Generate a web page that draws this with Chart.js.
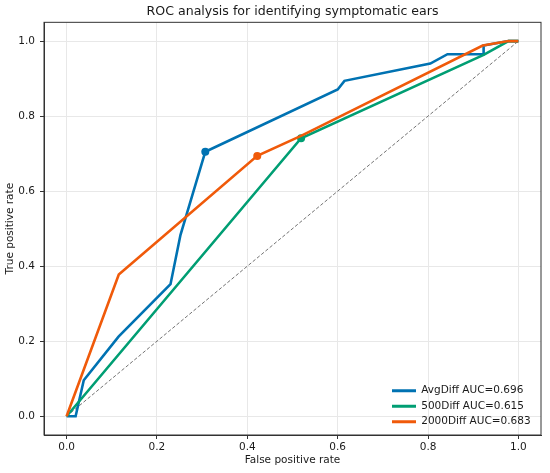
<!DOCTYPE html>
<html>
<head>
<meta charset="utf-8">
<script src="https://cdn.jsdelivr.net/npm/chart.js@4"></script>
<style>
  body { margin: 0; background: #fff; }
  canvas { display: block; }
</style>
</head>
<body>
<canvas id="rocChart" width="550" height="473"></canvas>
<script>
// ROC curves (false positive rate, true positive rate)
const avgFpr = [0, 0.02, 0.038, 0.115, 0.23, 0.252, 0.307, 0.6, 0.615, 0.805, 0.843, 0.923, 0.923, 0.978, 1.0];
const avgTpr = [0, 0, 0.096, 0.212, 0.352, 0.483, 0.705, 0.871, 0.894, 0.94, 0.965, 0.965, 0.988, 1.0, 1.0];
const diff500Fpr = [0, 0.519, 0.923, 0.978, 1.0];
const diff500Tpr = [0, 0.741, 0.963, 1.0, 1.0];
const diff2000Fpr = [0, 0.1155, 0.422, 0.52, 0.921, 0.978, 1.0];
const diff2000Tpr = [0, 0.378, 0.694, 0.748, 0.988, 1.0, 1.0];
const chanceLine = [0, 1];

const seriesNames = ['AvgDiff', '500Diff', '2000Diff'];
const aucValues = [0.696, 0.615, 0.683];
const markerIndex = [6, 1, 2];   // operating point shown as a dot
const seriesColors = ['#0072B2', '#009E73', '#F05A0A'];
const axisTicks = [0, 0.2, 0.4, 0.6, 0.8, 1.0];

function toPoints(xs, ys) {
    return xs.map((x, i) => ({x: x, y: ys[i]}));
}

const curves = [
    toPoints(avgFpr, avgTpr),
    toPoints(diff500Fpr, diff500Tpr),
    toPoints(diff2000Fpr, diff2000Tpr)
];

const FONT = 'DejaVu Sans';
const TEXT = '#1a1a1a';

const datasets = curves.map((pts, s) => ({
    label: seriesNames[s] + ' AUC=' + aucValues[s].toFixed(3),
    data: pts,
    showLine: true,
    borderColor: seriesColors[s],
    backgroundColor: seriesColors[s],
    borderWidth: 2.6,
    pointRadius: pts.map((p, i) => i === markerIndex[s] ? 4 : 0),
    pointBorderWidth: 0,
    pointBackgroundColor: seriesColors[s],
    order: 3 - s
}));

datasets.push({
    label: 'chance',
    data: toPoints(chanceLine, chanceLine),
    showLine: true,
    borderColor: '#737373',
    borderWidth: 1,
    borderDash: [3.5, 2],
    pointRadius: 0,
    order: 10
});

const framePlugin = {
    id: 'frame',
    afterLayout(chart) {
        const ca = chart.chartArea;
        const lg = chart.legend;
        const w = lg.width;
        lg.left = ca.right - 149 - chart.options.plugins.legend.labels.padding;
        lg.right = lg.left + w;
        lg.bottom = ca.bottom - 3;
        const t = chart.titleBlock;
        t.left = ca.left;
        t.right = ca.right;
    },
    afterDraw(chart) {
        const ca = chart.chartArea;
        const ctx = chart.ctx;
        ctx.save();
        ctx.strokeStyle = '#333';
        ctx.lineWidth = 1;
        ctx.strokeRect(ca.left, ca.top, ca.right - ca.left, ca.bottom - ca.top);
        ctx.restore();
    }
};

function axis(title, isY) {
    return {
        type: 'linear',
        min: -0.05,
        max: 1.05,
        afterBuildTicks: scale => { scale.ticks = axisTicks.map(v => ({value: v})); },
        afterFit: scale => {
            if (isY) scale.width = 44;
            else scale.height = 38;
        },
        ticks: {
            callback: v => v.toFixed(1),
            color: TEXT,
            font: {family: FONT, size: 10.5},
            padding: isY ? 5 : 2
        },
        grid: {
            color: '#e8e8e8',
            tickColor: '#333',
            tickLength: 4
        },
        border: {color: '#333', width: 1},
        title: {
            display: true,
            text: title,
            color: TEXT,
            font: {family: FONT, size: 10.5},
            padding: isY ? {top: 4, bottom: 0} : {top: 0, bottom: 6}
        }
    };
}

new Chart(document.getElementById('rocChart').getContext('2d'), {
    type: 'scatter',
    data: {datasets: datasets},
    options: {
        responsive: false,
        animation: false,
        devicePixelRatio: 1,
        layout: {padding: {left: 0, right: 9, top: 0, bottom: 0}},
        scales: {
            x: axis('False positive rate', false),
            y: axis('True positive rate', true)
        },
        plugins: {
            title: {
                display: true,
                text: 'ROC analysis for identifying symptomatic ears',
                color: TEXT,
                font: {family: FONT, size: 12.6, weight: 'normal'},
                padding: {top: 4.5, bottom: 2.7}
            },
            legend: {
                position: 'chartArea',
                align: 'end',
                labels: {
                    color: TEXT,
                    font: {family: FONT, size: 10.5},
                    boxWidth: 24,
                    boxHeight: 3,
                    padding: 5,
                    filter: item => item.datasetIndex < 3,
                    sort: (a, b) => a.datasetIndex - b.datasetIndex,
                    generateLabels: chart => Chart.defaults.plugins.legend.labels.generateLabels(chart)
                        .map(item => Object.assign(item, {lineWidth: 0}))
                }
            },
            tooltip: {enabled: false}
        }
    },
    plugins: [framePlugin]
});
</script>
</body>
</html>
